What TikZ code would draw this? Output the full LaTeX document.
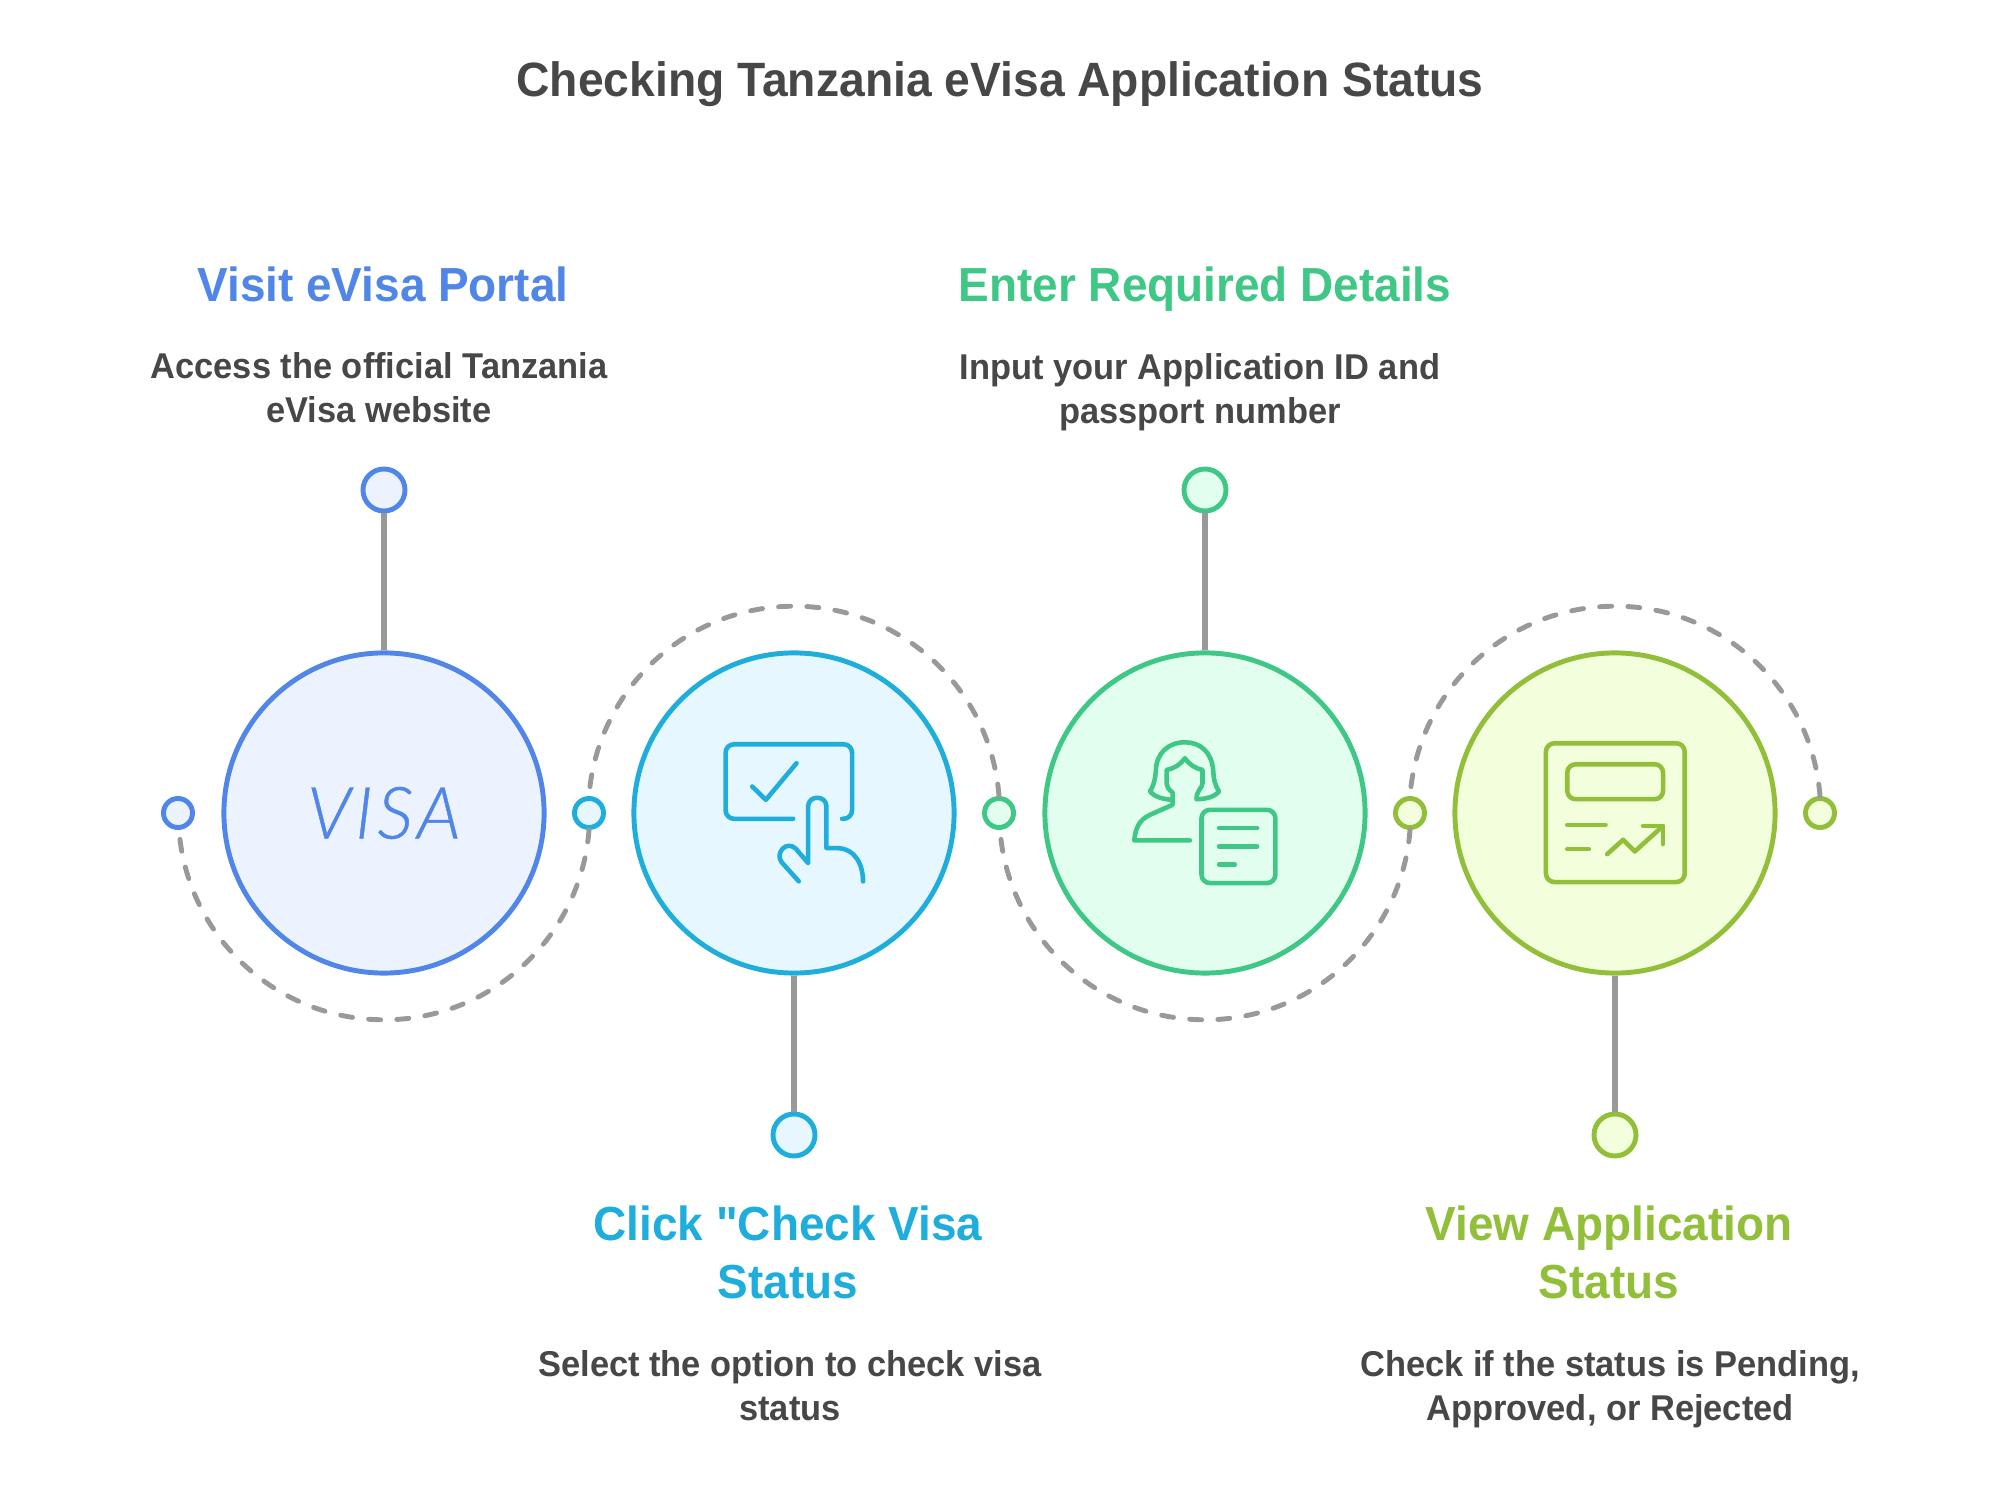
\documentclass[tikz,border=0pt]{standalone}
\usepackage{fontspec}
\setmainfont{Liberation Sans}[Ligatures=TeXOff,FakeStretch=0.96]
\newfontfamily\visafont{Lato Light Italic}[LetterSpace=6,FakeBold=0.6]
\definecolor{inkgray}{HTML}{474747}
\definecolor{linegray}{HTML}{999999}
\definecolor{bluedark}{HTML}{4F86E8}
\definecolor{bluelight}{HTML}{ECF3FF}
\definecolor{cyandark}{HTML}{1FAEDC}
\definecolor{cyanlight}{HTML}{E6F7FF}
\definecolor{greendark}{HTML}{3EC785}
\definecolor{greenlight}{HTML}{E2FEEF}
\definecolor{olivedark}{HTML}{92BF3A}
\definecolor{olivelight}{HTML}{F3FEDC}
\tikzset{
  hub/.style={circle,draw=#1dark,fill=#1light,line width=1.4pt,inner sep=0pt,minimum size=3.2cm},
  pin/.style={circle,draw=#1dark,fill=#1light,line width=1.4pt,inner sep=0pt,minimum size=0.42cm},
  dot/.style={circle,draw=#1dark,fill=#1light,line width=1.4pt,inner sep=0pt,minimum size=0.29cm},
  stem/.style={draw=linegray,line width=1.5pt},
  orbit/.style={draw=linegray,line width=1.4pt,line cap=round,dash pattern=on 3.4pt off 4.63pt},
  icon/.style={draw=#1dark,line width=1.3pt,line cap=round,line join=round},
  title/.style={text=inkgray,font=\bfseries\fontsize{13.7}{16}\selectfont},
  head/.style={text=#1dark,align=center,font=\bfseries\fontsize{13.6}{16.5}\selectfont},
  desc/.style={text=inkgray,align=center,font=\bfseries\fontsize{10.2}{12.6}\selectfont}
}
\begin{document}
\begin{tikzpicture}[x=0.01cm,y=0.01cm]
  \useasboundingbox (0,0) rectangle (1999,1508);
  \node[title,anchor=base] (title) at (1000,1411) {Checking Tanzania eVisa Application Status};
  % Four hubs on one line, 410.5 apart
  \node[hub=blue] (hub1) at (384,695) {};
  \node[hub=cyan] (hub2) at (794,695) {};
  \node[hub=green] (hub3) at (1205,695) {};
  \node[hub=olive] (hub4) at (1615,695) {};
  % Small dots between the hubs
  \node[dot=blue] (dot1) at (178,695) {};
  \node[dot=cyan] (dot2) at (589,695) {};
  \node[dot=green] (dot3) at (999,695) {};
  \node[dot=olive] (dot4) at (1410,695) {};
  \node[dot=olive] (dot5) at (1820,695) {};
  % Pins
  \node[pin=blue] (pin1) at (384,1018) {};
  \node[pin=cyan] (pin2) at (794,373) {};
  \node[pin=green] (pin3) at (1205,1018) {};
  \node[pin=olive] (pin4) at (1615,373) {};
  \draw[stem] (pin1) -- (hub1);
  \draw[stem] (pin2) -- (hub2);
  \draw[stem] (pin3) -- (hub3);
  \draw[stem] (pin4) -- (hub4);
  % Dashed half circles from dot to dot, each begun at its right end
  \draw[orbit] (dot2.south) arc[start angle=355.6,end angle=184.4,radius=2.055cm];
  \draw[orbit] (dot3.north) arc[start angle=4.4,end angle=175.6,radius=2.055cm];
  \draw[orbit] (dot4.south) arc[start angle=355.6,end angle=184.4,radius=2.055cm];
  \draw[orbit] (dot5.north) arc[start angle=4.4,end angle=175.6,radius=2.055cm];
  % Labels
  \node[head=blue,anchor=base] (head1) at (383,1206) {Visit eVisa Portal};
  \node[desc] (desc1) at (379,1120) {Access the official Tanzania\\eVisa website};
  \node[head=cyan] (head2) at (788,256) {Click "Check Visa\\Status};
  \node[desc] (desc2) at (790,122) {Select the option to check visa\\status};
  \node[head=green,anchor=base] (head3) at (1205,1206) {Enter Required Details};
  \node[desc] (desc3) at (1200,1116) {Input your Application ID and\\passport number};
  \node[head=olive] (head4) at (1609,256) {View Application\\Status};
  \node[desc] (desc4) at (1610,119) {Check if the status is Pending,\\Approved, or Rejected};
  % Icons, in thirds of a pixel from a corner
  \node[text=bluedark,font=\visafont\fontsize{20.5}{24}\selectfont] (visa) at (384,695) {VISA};
  \begin{scope}[shift={(680,808)},x=0.003333cm,y=-0.003333cm]
    \draw[icon=cyan,rounded corners=2.4pt] (340,357) -- (137,357) -- (137,133) -- (517,133) -- (517,357) -- (487,357);
    \draw[icon=cyan] (217,260) -- (258,300) -- (350,190);
    \draw[icon=cyan] (357,545) -- (305,487) .. controls (285,460) and (320,420) .. (348,447) -- (385,490) -- (385,320)
      .. controls (385,285) and (440,285) .. (440,320) -- (440,445) -- (470,445) .. controls (530,445) and (550,500) .. (550,545);
  \end{scope}
  \begin{scope}[shift={(1100,798)},x=0.003333cm,y=-0.003333cm]
    \draw[icon=green] (270,392) -- (103,392) .. controls (107,350) and (120,330) .. (150,315) -- (218,285) -- (218,248)
      .. controls (205,238) and (200,230) .. (200,220) -- (200,180) .. controls (225,175) and (240,165) .. (255,145)
      .. controls (270,165) and (285,175) .. (308,180) -- (308,220) .. controls (308,235) and (290,240) .. (290,268)
      .. controls (320,268) and (345,260) .. (358,245) .. controls (345,225) and (342,210) .. (340,180)
      .. controls (335,125) and (300,97) .. (255,97) .. controls (205,97) and (170,130) .. (168,180)
      .. controls (166,210) and (160,230) .. (150,245) .. controls (165,262) and (190,268) .. (218,270);
    \draw[icon=green,rounded corners=2.4pt] (305,300) rectangle (527,520);
    \draw[icon=green] (358,355) -- (472,355);
    \draw[icon=green] (358,410) -- (472,410);
    \draw[icon=green] (358,465) -- (405,465);
  \end{scope}
  \begin{scope}[shift={(1510,798)},x=0.003333cm,y=-0.003333cm]
    \draw[icon=olive,rounded corners=2.4pt] (108,100) rectangle (525,517);
    \draw[icon=olive,rounded corners=2.4pt] (172,163) rectangle (460,268);
    \draw[icon=olive] (172,345) -- (287,345);
    \draw[icon=olive] (172,418) -- (237,418);
    \draw[icon=olive] (292,433) -- (340,390) -- (375,425) -- (458,350);
    \draw[icon=olive] (400,348) -- (460,348) -- (460,403);
  \end{scope}
\end{tikzpicture}
\end{document}
